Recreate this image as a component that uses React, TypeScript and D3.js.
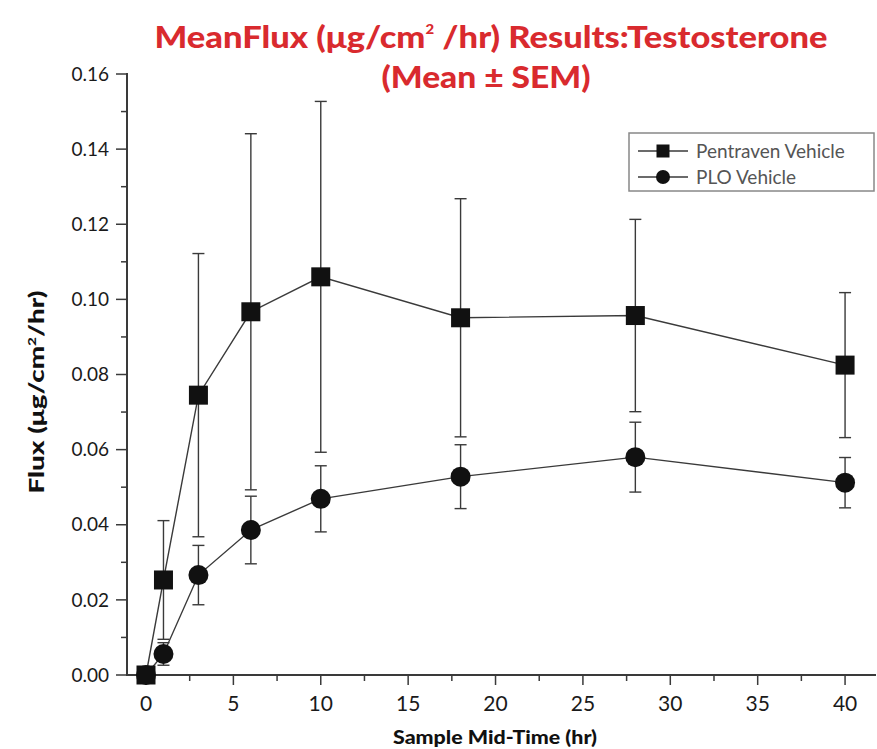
import * as d3 from 'd3';

const times = [0, 1, 3, 6, 10, 18, 28, 40];
const pentravenMean = [0, 0.0253, 0.0745, 0.0967, 0.106, 0.0951, 0.0957, 0.0825];
const pentravenSem = [0, 0.0158, 0.0377, 0.0474, 0.0467, 0.0317, 0.0256, 0.0193];
const ploMean = [0, 0.0056, 0.0266, 0.0386, 0.0469, 0.0528, 0.058, 0.0512];
const ploSem = [0, 0.003, 0.0079, 0.009, 0.0088, 0.0085, 0.0093, 0.0067];

const xTicks = [0, 5, 10, 15, 20, 25, 30, 35, 40];
const xMinor = [2.5, 7.5, 12.5, 17.5, 22.5, 27.5, 32.5, 37.5];
const yTicks = [0, 0.02, 0.04, 0.06, 0.08, 0.1, 0.12, 0.14, 0.16];
const yMinor = [0.01, 0.03, 0.05, 0.07, 0.09, 0.11, 0.13, 0.15];

const seriesNames = ['Pentraven Vehicle', 'PLO Vehicle'];

const W = 877;
const H = 749;
const font = 'Lato, "Open Sans", sans-serif';
const red = '#d92a2e';
const ink = '#3a3a3a';

const App = () => {
  const x = d3.scaleLinear().domain([-1.087, 41.77]).range([127, 876]);
  const y = d3.scaleLinear().domain([0, 0.16]).range([675, 74]);

  const line = d3.line<number>()
    .x((_, i) => x(times[i]))
    .y(d => y(d));

  const series = [
    { name: seriesNames[0], mean: pentravenMean, sem: pentravenSem, shape: 'square' },
    { name: seriesNames[1], mean: ploMean, sem: ploSem, shape: 'circle' },
  ];

  const marker = (shape: string, cx: number, cy: number, s: number, key: string) =>
    shape === 'square'
      ? <rect key={key} x={cx - s / 2} y={cy - s / 2} width={s} height={s} fill="#111" />
      : <circle key={key} cx={cx} cy={cy} r={s / 2 + 0.5} fill="#111" />;

  const cap = 6;

  return (
    <svg width={W} height={H} style={{ display: 'block', position: 'absolute', left: 0, top: 0 }}>
      <rect width={W} height={H} fill="#fff" />

      {/* title */}
      <text x={491} y={48} textAnchor="middle" fontFamily={font} fontWeight="900" fontSize={30}
        fill={red} textLength={673} lengthAdjust="spacingAndGlyphs">
        MeanFlux (μg/cm<tspan dy={-14} fontSize={13}>2</tspan><tspan dy={14}> /hr) Results:Testosterone</tspan>
      </text>
      <text x={486} y={88} textAnchor="middle" fontFamily={font} fontWeight="900" fontSize={30}
        fill={red} textLength={209} lengthAdjust="spacingAndGlyphs">
        (Mean ± SEM)
      </text>

      {/* axes */}
      <line x1={127} x2={127} y1={y(0.16) - 1} y2={y(0) + 1} stroke={ink} strokeWidth={2} />
      <line x1={126} x2={876} y1={y(0)} y2={y(0)} stroke={ink} strokeWidth={2} />
      {yTicks.map(t => (
        <g key={'y' + t}>
          <line x1={116} x2={127} y1={y(t)} y2={y(t)} stroke={ink} strokeWidth={1.5} />
          <text x={109} y={y(t)} dy="0.35em" textAnchor="end" fontFamily={font} fontSize={19} fill="#1a1a1a">
            {d3.format('.2f')(t)}
          </text>
        </g>
      ))}
      {yMinor.map(t => (
        <line key={'ym' + t} x1={121} x2={127} y1={y(t)} y2={y(t)} stroke={ink} strokeWidth={1.5} />
      ))}
      {xTicks.map(t => (
        <g key={'x' + t}>
          <line x1={x(t)} x2={x(t)} y1={y(0)} y2={y(0) + 10} stroke={ink} strokeWidth={1.5} />
          <text x={x(t)} y={711} textAnchor="middle" fontFamily={font} fontSize={21} fill="#1a1a1a">
            {t}
          </text>
        </g>
      ))}
      {xMinor.map(t => (
        <line key={'xm' + t} x1={x(t)} x2={x(t)} y1={y(0)} y2={y(0) + 6} stroke={ink} strokeWidth={1.5} />
      ))}

      {/* axis titles */}
      <text transform="translate(44,392) rotate(-90)" textAnchor="middle" fontFamily={font}
        fontWeight="900" fontSize={20} fill="#111" textLength={203} lengthAdjust="spacingAndGlyphs">
        Flux (μg/cm<tspan dy={-8} fontSize={11}>2</tspan><tspan dy={8}>/hr)</tspan>
      </text>
      <text x={495} y={744} textAnchor="middle" fontFamily={font} fontWeight="900" fontSize={19}
        fill="#111" textLength={204} lengthAdjust="spacingAndGlyphs">
        Sample Mid-Time (hr)
      </text>

      {/* lines */}
      {series.map(s => (
        <path key={'l' + s.name} d={line(s.mean) ?? ''} fill="none" stroke={ink} strokeWidth={1.4} />
      ))}

      {/* error bars */}
      {series.map(s => s.mean.map((m, i) => {
        if (s.sem[i] === 0) return null;
        const cx = x(times[i]);
        const hi = y(m + s.sem[i]);
        const lo = y(m - s.sem[i]);
        return (
          <g key={'e' + s.name + i} stroke={ink} strokeWidth={1.4}>
            <line x1={cx} x2={cx} y1={hi} y2={lo} />
            <line x1={cx - cap} x2={cx + cap} y1={hi} y2={hi} />
            <line x1={cx - cap} x2={cx + cap} y1={lo} y2={lo} />
          </g>
        );
      }))}

      {/* markers */}
      {series.map(s => s.mean.map((m, i) => marker(s.shape, x(times[i]), y(m), 19, 'm' + s.name + i)))}

      {/* legend */}
      <rect x={629} y={133} width={245} height={58} fill="#fff" stroke="#888" strokeWidth={1.5} />
      {series.map((s, i) => {
        const ly = 151 + i * 26;
        return (
          <g key={'lg' + s.name}>
            <line x1={638} x2={688} y1={ly} y2={ly} stroke={ink} strokeWidth={1.4} />
            {marker(s.shape, 663, ly, 13, 'lm' + i)}
            <text x={696} y={ly} dy="0.35em" fontFamily={font} fontSize={19} fill="#555">{s.name}</text>
          </g>
        );
      })}
    </svg>
  );
};

export default App;
